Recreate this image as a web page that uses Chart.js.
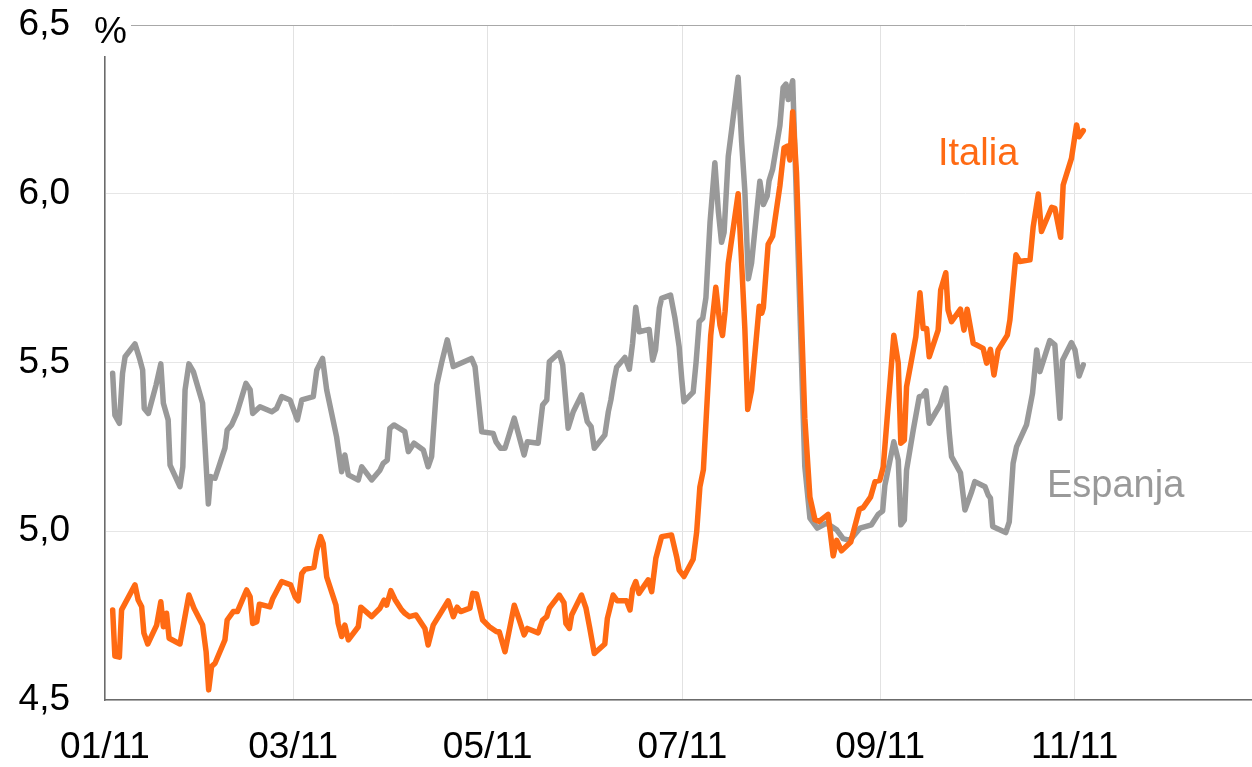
<!DOCTYPE html>
<html>
<head>
<meta charset="utf-8">
<script src="https://cdn.jsdelivr.net/npm/chart.js@4.4.1/dist/chart.umd.min.js"></script>
<style>
  html, body { margin: 0; padding: 0; background: #fff; }
  #korot { display: block; }
</style>
</head>
<body>
<canvas id="korot" width="1252" height="767"></canvas>
<script>
// x = päiviä vuoden 2011 alusta, y = 10v koron taso (%)
const tickDays = [0, 59, 120, 181, 243, 304];
const tickLabels = ["01/11", "03/11", "05/11", "07/11", "09/11", "11/11"];
const yTicks = [4.5, 5.0, 5.5, 6.0, 6.5];

const espanjaDays = [2.4, 3.1, 4.5, 5.5, 6.3, 9.4, 10.8, 11.8, 12.3, 13.6, 16.0, 17.5, 18.3, 19.8, 20.4, 23.5, 24.4, 25.1, 26.3, 27.7,
  30.6, 32.4, 33.1, 34.5, 37.6, 38.3, 39.7, 41.3, 44.2, 45.5, 46.3, 48.6, 52.3, 53.8, 55.4, 58.0, 60.3, 61.7, 65.3, 66.4,
  68.2, 69.5, 72.6, 74.2, 75.2, 76.3, 79.4, 80.5, 83.6, 86.2, 87.2, 88.5, 89.3, 90.6, 94.0, 95.1, 96.9, 99.8, 101.3, 102.4,
  104.0, 105.5, 107.3, 109.2, 114.9, 116.0, 118.1, 121.7, 122.6, 124.0, 125.4, 128.3, 131.4, 132.4, 135.8, 137.2, 138.5, 139.3, 142.4, 143.5,
  145.2, 146.8, 149.4, 151.2, 152.4, 153.4, 156.7, 157.8, 158.6, 159.6, 160.4, 163.0, 164.4, 165.4, 166.4, 167.5, 170.6, 171.7, 172.6, 173.8,
  174.5, 177.3, 178.7, 180.0, 180.8, 181.5, 184.4, 185.3, 186.3, 187.4, 188.4, 189.7, 191.2, 192.3, 193.3, 194.1, 195.4, 196.5, 198.5, 199.6,
  200.6, 201.7, 202.7, 205.3, 206.4, 207.6, 208.2, 209.3, 211.6, 212.6, 213.5, 214.2, 215.6, 219.4, 221.0, 223.3, 226.2, 229.4, 231.4, 233.5,
  236.7, 240.3, 242.4, 243.8, 244.5, 247.3, 248.7, 249.5, 250.6, 251.3, 253.4, 255.3, 256.3, 257.4, 258.4, 261.8, 263.6, 264.7, 265.4, 268.2,
  269.6, 271.7, 272.7, 275.9, 276.9, 277.6, 278.3, 282.4, 283.5, 284.7, 285.8, 288.9, 290.8, 292.1, 293.1, 296.2, 297.8, 299.4, 300.2, 303.0,
  304.1, 305.4, 306.7];
const espanjaValues = [5.468, 5.344, 5.320, 5.468, 5.517, 5.555, 5.513, 5.478, 5.364, 5.349, 5.433, 5.496, 5.379, 5.330, 5.196, 5.132, 5.191, 5.419, 5.496, 5.473,
  5.379, 5.081, 5.162, 5.157, 5.246, 5.300, 5.315, 5.349, 5.438, 5.419, 5.349, 5.369, 5.354, 5.364, 5.399, 5.389, 5.330, 5.389, 5.399, 5.478,
  5.512, 5.419, 5.280, 5.176, 5.226, 5.167, 5.152, 5.191, 5.152, 5.181, 5.201, 5.211, 5.305, 5.315, 5.295, 5.236, 5.261, 5.241, 5.191, 5.221,
  5.433, 5.498, 5.567, 5.488, 5.512, 5.488, 5.295, 5.290, 5.265, 5.246, 5.246, 5.335, 5.226, 5.265, 5.261, 5.374, 5.389, 5.502, 5.529, 5.493,
  5.305, 5.354, 5.404, 5.325, 5.310, 5.246, 5.285, 5.354, 5.389, 5.448, 5.486, 5.515, 5.480, 5.557, 5.664, 5.591, 5.598, 5.507, 5.537, 5.661,
  5.690, 5.700, 5.631, 5.547, 5.453, 5.384, 5.412, 5.499, 5.621, 5.631, 5.692, 5.917, 6.092, 5.947, 5.856, 5.886, 6.111, 6.192, 6.345, 6.152,
  6.008, 5.748, 5.794, 6.037, 5.968, 5.993, 6.039, 6.072, 6.203, 6.315, 6.325, 6.279, 6.335, 5.192, 5.039, 5.009, 5.024, 5.004, 4.978, 4.973,
  5.009, 5.019, 5.050, 5.060, 5.136, 5.265, 5.211, 5.019, 5.033, 5.181, 5.300, 5.399, 5.401, 5.416, 5.320, 5.374, 5.424, 5.290, 5.221, 5.173,
  5.063, 5.117, 5.147, 5.132, 5.107, 5.098, 5.014, 4.996, 5.028, 5.201, 5.251, 5.315, 5.409, 5.537, 5.473, 5.565, 5.552, 5.335, 5.507, 5.559,
  5.537, 5.460, 5.493];

const italiaDays = [2.4, 3.1, 4.5, 5.2, 9.4, 10.4, 11.5, 12.2, 13.4, 16.2, 17.5, 18.3, 19.3, 20.1, 23.5, 26.3, 27.9, 30.6, 31.7, 32.5,
  33.4, 34.5, 37.6, 38.3, 40.2, 41.5, 44.4, 45.5, 46.3, 47.6, 48.4, 51.7, 52.6, 55.4, 58.2, 59.6, 60.6, 61.7, 62.7, 65.5,
  66.4, 67.6, 68.4, 69.5, 72.4, 73.1, 74.2, 75.2, 76.3, 79.4, 80.2, 83.6, 86.2, 87.5, 88.3, 89.6, 90.9, 93.0, 94.0, 95.4,
  97.5, 100.3, 101.3, 102.9, 107.6, 109.2, 110.4, 111.5, 114.4, 115.3, 116.5, 118.4, 120.5, 122.8, 123.6, 125.4, 128.3, 129.9, 131.4, 132.4,
  135.8, 137.2, 138.5, 139.3, 142.4, 143.9, 144.5, 145.6, 146.3, 149.4, 150.8, 152.0, 153.4, 156.7, 157.5, 158.3, 159.3, 160.6, 163.5, 164.6,
  165.4, 166.4, 167.4, 170.3, 171.4, 172.7, 174.5, 177.6, 179.2, 180.0, 181.5, 184.4, 185.5, 186.5, 187.6, 188.6, 189.9, 191.5, 192.8, 193.6,
  194.4, 195.4, 198.5, 199.6, 200.6, 201.5, 202.7, 205.1, 205.9, 206.4, 207.9, 209.3, 211.6, 212.9, 213.9, 214.7, 215.6, 216.8, 219.4, 221.0,
  222.6, 223.9, 226.7, 228.3, 229.4, 230.9, 233.8, 236.5, 237.7, 240.0, 241.4, 242.9, 244.0, 247.3, 248.7, 249.5, 250.6, 251.3, 254.2, 255.5,
  256.5, 257.6, 258.4, 261.2, 262.0, 263.6, 264.3, 265.4, 268.2, 269.3, 270.3, 272.2, 275.3, 276.4, 277.6, 278.7, 280.0, 282.9, 283.7, 285.6,
  286.8, 290.0, 291.0, 292.6, 293.6, 296.8, 297.8, 299.6, 300.4, 303.0, 304.6, 305.4, 306.7];
const italiaValues = [4.767, 4.630, 4.627, 4.767, 4.841, 4.796, 4.776, 4.698, 4.666, 4.722, 4.791, 4.717, 4.757, 4.683, 4.666, 4.811, 4.772, 4.722, 4.643, 4.530,
  4.599, 4.609, 4.678, 4.737, 4.762, 4.762, 4.826, 4.806, 4.727, 4.732, 4.784, 4.776, 4.801, 4.851, 4.841, 4.806, 4.794, 4.875, 4.887, 4.893,
  4.944, 4.984, 4.964, 4.865, 4.781, 4.727, 4.688, 4.722, 4.678, 4.717, 4.775, 4.747, 4.772, 4.796, 4.781, 4.824, 4.798, 4.767, 4.757, 4.747,
  4.752, 4.712, 4.663, 4.722, 4.794, 4.747, 4.775, 4.762, 4.772, 4.816, 4.814, 4.737, 4.717, 4.702, 4.702, 4.643, 4.781, 4.737, 4.693, 4.712,
  4.699, 4.737, 4.747, 4.772, 4.811, 4.788, 4.727, 4.712, 4.752, 4.811, 4.772, 4.712, 4.638, 4.666, 4.742, 4.772, 4.811, 4.794, 4.794, 4.767,
  4.828, 4.851, 4.816, 4.856, 4.821, 4.920, 4.984, 4.989, 4.925, 4.885, 4.866, 4.917, 4.998, 5.131, 5.182, 5.356, 5.580, 5.723, 5.611, 5.580,
  5.651, 5.794, 6.000, 5.794, 5.600, 5.361, 5.417, 5.667, 5.646, 5.662, 5.850, 5.874, 6.024, 6.136, 6.141, 6.100, 6.243, 6.060, 5.335, 5.101,
  5.034, 5.029, 5.050, 4.927, 4.973, 4.942, 4.968, 5.065, 5.070, 5.101, 5.147, 5.151, 5.191, 5.581, 5.498, 5.261, 5.270, 5.428, 5.576, 5.707,
  5.601, 5.601, 5.517, 5.596, 5.715, 5.766, 5.656, 5.621, 5.658, 5.596, 5.658, 5.557, 5.542, 5.498, 5.539, 5.463, 5.537, 5.581, 5.626, 5.819,
  5.799, 5.804, 5.902, 5.999, 5.888, 5.960, 5.957, 5.871, 6.026, 6.105, 6.204, 6.169, 6.187];

const ORANSSI = "#ff6a13";
const HARMAA = "#999999";
const FONTTI = "'Liberation Sans', Arial, sans-serif";

const toPoints = (days, vals) => days.map((d, i) => ({ x: d, y: vals[i] }));

// prosenttimerkki ja sarjojen nimet
const tekstit = {
  id: "tekstit",
  afterDraw(chart) {
    const c = chart.ctx;
    const a = chart.chartArea;
    c.save();
    c.fillStyle = "#fff";
    c.fillRect(a.left - 19, 0, 45, a.top + 31);
    c.font = "37px " + FONTTI;
    c.textBaseline = "alphabetic";
    c.fillStyle = "#000";
    c.fillText("%", a.left - 11, a.top + 18);
    c.font = "38px " + FONTTI;
    c.fillStyle = ORANSSI;
    c.fillText("Italia", 938, 165);
    c.fillStyle = HARMAA;
    c.fillText("Espanja", 1047, 497);
    c.restore();
  }
};

const chart = new Chart(document.getElementById("korot"), {
  type: "line",
  data: {
    datasets: [
      {
        label: "Italia",
        data: toPoints(italiaDays, italiaValues),
        borderColor: ORANSSI,
        borderWidth: 5.5,
        pointRadius: 0,
        tension: 0,
        borderJoinStyle: "round",
        borderCapStyle: "round",
        fill: false,
      },
      {
        label: "Espanja",
        data: toPoints(espanjaDays, espanjaValues),
        borderColor: HARMAA,
        borderWidth: 5.5,
        pointRadius: 0,
        tension: 0,
        borderJoinStyle: "round",
        borderCapStyle: "round",
        fill: false,
      },
    ],
  },
  options: {
    responsive: false,
    animation: false,
    layout: { padding: { top: 25, right: 0, left: 0, bottom: 0 } },
    scales: {
      x: {
        type: "linear",
        min: 0,
        max: 359.6,
        afterBuildTicks: (s) => { s.ticks = tickDays.map((v) => ({ value: v })); },
        afterFit: (s) => { s.height = 67; s.paddingLeft = 0; s.paddingRight = 0; },
        grid: { color: "#e2e2e2", lineWidth: 1, drawTicks: false },
        border: { color: "#6b6b6b", width: 1.5 },
        ticks: {
          padding: 26,
          color: "#000",
          maxRotation: 0,
          autoSkip: false,
          font: { family: FONTTI, size: 37 },
          callback: (v) => tickLabels[tickDays.indexOf(v)] ?? "",
        },
      },
      y: {
        min: 4.5,
        max: 6.5,
        afterBuildTicks: (s) => { s.ticks = yTicks.map((v) => ({ value: v })); },
        afterFit: (s) => { s.width = 105; s.paddingTop = 0; s.paddingBottom = 0; },
        grid: {
          drawTicks: false,
          lineWidth: 1,
          color: (ctx) => (ctx.tick && ctx.tick.value === 6.5 ? "#a8a8a8" : "#e6e6e6"),
        },
        border: { color: "#6b6b6b", width: 1.5 },
        ticks: {
          padding: 35,
          color: "#000",
          font: { family: FONTTI, size: 37 },
          callback: (v) => v.toFixed(1).replace(".", ","),
        },
      },
    },
    plugins: {
      legend: { display: false },
      tooltip: { enabled: false },
    },
  },
  plugins: [tekstit],
});
</script>
</body>
</html>
